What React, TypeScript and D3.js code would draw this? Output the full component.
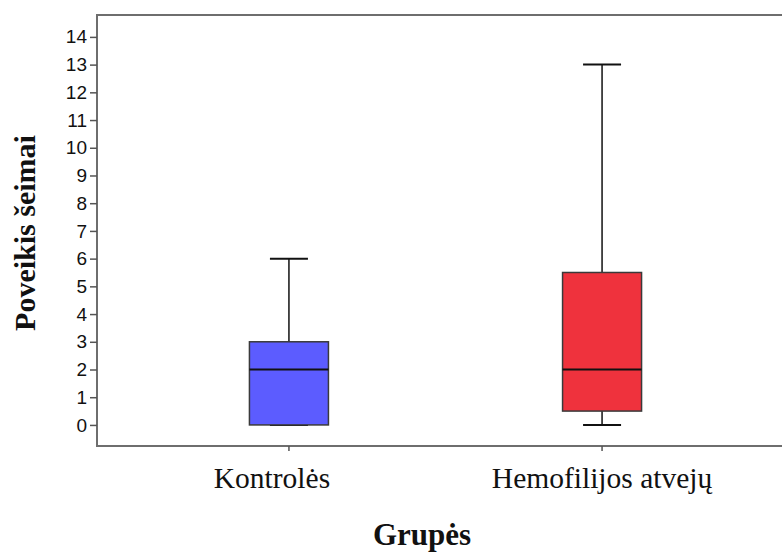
import React, { useEffect, useRef } from "react";
import * as d3 from "d3";

// values
const groups = ["Kontrolės", "Hemofilijos atvejų"];
const mins = [0, 0];
const q1s = [0, 0.5];
const medians = [2, 2];
const q3s = [3, 5.5];
const maxs = [6, 13];
const colors = ["#5c5cff", "#ef323d"];
const yTicks = d3.range(0, 15);

const App = () => {
  const svgRef = useRef<SVGSVGElement>(null);

  useEffect(() => {
    const width = 782,
      height = 554;
    const left = 97,
      top = 15,
      bottom = 446;

    const svg = d3.select(svgRef.current);
    svg.selectAll("*").remove();
    svg.attr("width", width).attr("height", height);

    const y = d3.scaleLinear().domain([-0.76, 14.79]).range([bottom, top]);
    const x = d3.scalePoint<string>().domain(groups).range([left, 794]).padding(0.613);

    // frame (right side runs off the picture)
    svg
      .append("path")
      .attr("d", `M${width + 10},${top}H${left}V${bottom}H${width + 10}`)
      .attr("fill", "none")
      .attr("stroke", "#6e6e6e")
      .attr("stroke-width", 2);

    // y axis
    const yAxis = svg
      .append("g")
      .attr("transform", `translate(${left},0)`)
      .call(d3.axisLeft(y).tickValues(yTicks).tickSize(7).tickPadding(3).tickFormat(d3.format("d")));
    yAxis.select(".domain").remove();
    yAxis.selectAll(".tick line").attr("stroke", "#555").attr("stroke-width", 1.5);
    yAxis
      .selectAll(".tick text")
      .attr("font-family", "Liberation Sans, Arial, sans-serif")
      .attr("font-size", 19)
      .attr("fill", "#111");

    // x ticks
    svg
      .selectAll(".xtick")
      .data(groups)
      .enter()
      .append("line")
      .attr("x1", (d) => x(d)!)
      .attr("x2", (d) => x(d)!)
      .attr("y1", bottom)
      .attr("y2", bottom + 5)
      .attr("stroke", "#555")
      .attr("stroke-width", 1.5);

    svg
      .selectAll(".xlab")
      .data(groups)
      .enter()
      .append("text")
      .attr("x", (d, i) => x(d)! + (i === 0 ? -17 : 0))
      .attr("y", 488)
      .attr("text-anchor", "middle")
      .attr("font-family", "Liberation Serif, Times New Roman, serif")
      .attr("font-size", 29.5)
      .attr("fill", "#111")
      .text((d) => d);

    const boxW = 79,
      capW = 38;

    const g = svg
      .selectAll(".box")
      .data(groups)
      .enter()
      .append("g")
      .attr("class", "box");

    // whiskers
    g.append("line")
      .attr("x1", (d) => x(d)!)
      .attr("x2", (d) => x(d)!)
      .attr("y1", (d, i) => y(maxs[i]))
      .attr("y2", (d, i) => y(mins[i]))
      .attr("stroke", "#111")
      .attr("stroke-width", 1.5);
    g.append("line")
      .attr("x1", (d) => x(d)! - capW / 2)
      .attr("x2", (d) => x(d)! + capW / 2)
      .attr("y1", (d, i) => y(maxs[i]))
      .attr("y2", (d, i) => y(maxs[i]))
      .attr("stroke", "#111")
      .attr("stroke-width", 2);
    g.append("line")
      .attr("x1", (d) => x(d)! - capW / 2)
      .attr("x2", (d) => x(d)! + capW / 2)
      .attr("y1", (d, i) => y(mins[i]))
      .attr("y2", (d, i) => y(mins[i]))
      .attr("stroke", "#111")
      .attr("stroke-width", 2);

    // boxes
    g.append("rect")
      .attr("x", (d) => x(d)! - boxW / 2)
      .attr("width", boxW)
      .attr("y", (d, i) => y(q3s[i]))
      .attr("height", (d, i) => y(q1s[i]) - y(q3s[i]))
      .attr("fill", (d, i) => colors[i])
      .attr("stroke", "#3a3a3a")
      .attr("stroke-width", 1.5);

    // medians
    g.append("line")
      .attr("x1", (d) => x(d)! - boxW / 2)
      .attr("x2", (d) => x(d)! + boxW / 2)
      .attr("y1", (d, i) => y(medians[i]))
      .attr("y2", (d, i) => y(medians[i]))
      .attr("stroke", "#111")
      .attr("stroke-width", 2);

    // axis titles
    svg
      .append("text")
      .attr("transform", `translate(35,${233}) rotate(-90)`)
      .attr("text-anchor", "middle")
      .attr("font-family", "Liberation Serif, Times New Roman, serif")
      .attr("font-weight", "bold")
      .attr("font-size", 30)
      .attr("fill", "#111")
      .text("Poveikis šeimai");

    svg
      .append("text")
      .attr("x", 422)
      .attr("y", 545)
      .attr("text-anchor", "middle")
      .attr("font-family", "Liberation Serif, Times New Roman, serif")
      .attr("font-weight", "bold")
      .attr("font-size", 31)
      .attr("fill", "#111")
      .text("Grupės");
  }, []);

  return <svg ref={svgRef} style={{ position: "absolute", left: 0, top: 0 }}></svg>;
};

export default App;
